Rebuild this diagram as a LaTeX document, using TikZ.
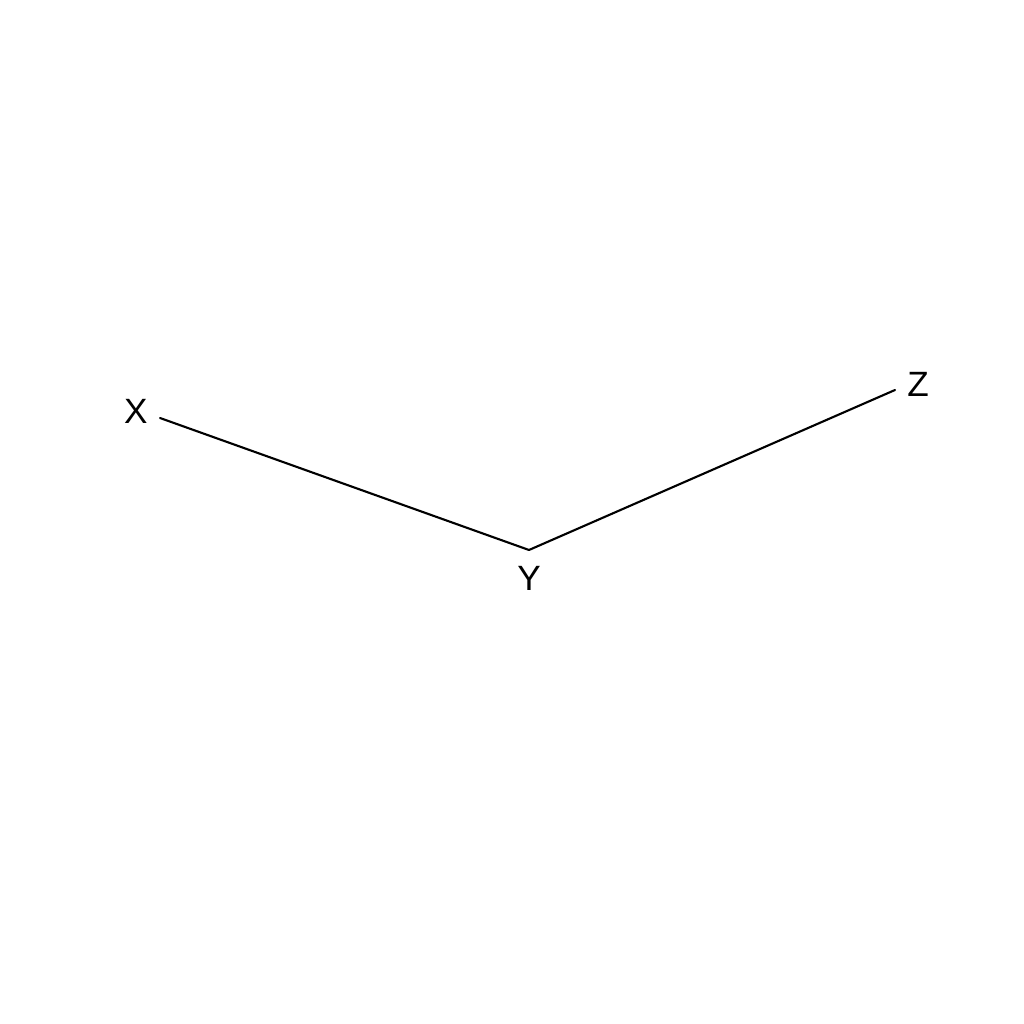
\documentclass[tikz,border=0pt]{standalone}
\usepackage{fontspec}
\setmainfont{Liberation Sans}
\usepackage{tikz}
\usepackage{tkz-euclide}

\begin{document}
\begin{tikzpicture}[font=\fontsize{11}{13}\selectfont]
    \useasboundingbox (0,0) rectangle (10.24,10.24);
    \tkzDefPoints{1.60/6.06/X,5.29/4.74/Y,8.95/6.34/Z}
    \tkzDrawSegments[line width=0.6pt](X,Y Y,Z)
    \tkzLabelPoint[left,yshift=2pt](X){X}
    \tkzLabelPoint[below,yshift=-1pt](Y){Y}
    \tkzLabelPoint[right,yshift=1.5pt](Z){Z}
    \end{tikzpicture}
\end{document}
